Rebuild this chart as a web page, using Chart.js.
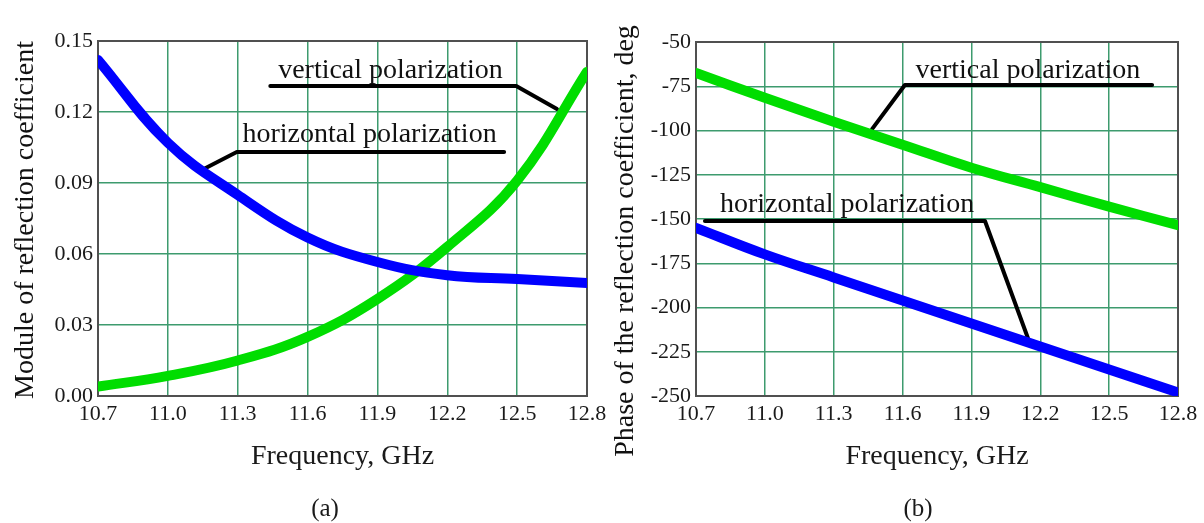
<!DOCTYPE html>
<html>
<head>
<meta charset="utf-8">
<script src="https://cdn.jsdelivr.net/npm/chart.js@4.4.1/dist/chart.umd.min.js"></script>
<style>
body{margin:0;background:#fff;width:1204px;height:523px;position:relative;overflow:hidden;font-family:"Liberation Serif",serif;}
canvas{position:absolute;top:0;}
#modChart{left:0}
#phaseChart{left:604px}
.cap{position:absolute;top:494px;font-size:25px;color:#1a1a1a;transform:translateX(-50%);}
</style>
</head>
<body>
<canvas id="modChart" width="612" height="523"></canvas>
<canvas id="phaseChart" width="600" height="523"></canvas>
<div class="cap" style="left:325px">(a)</div>
<div class="cap" style="left:918px">(b)</div>
<script>
// frequencies, GHz
const freq = [10.7, 11.0, 11.3, 11.6, 11.9, 12.2, 12.5, 12.8];
const freqTicks = [10.7, 11.0, 11.3, 11.6, 11.9, 12.2, 12.5, 12.8];

// (a) module of reflection coefficient
const moduleHorizontal = [0.142, 0.107, 0.085, 0.067, 0.0566, 0.051, 0.0494, 0.0477];
const moduleVertical = [0.004, 0.0085, 0.015, 0.025, 0.041, 0.063, 0.091, 0.137];
const moduleTicks = [0, 0.03, 0.06, 0.09, 0.12, 0.15];

// (b) phase, deg
const phaseVertical = [-67.5, -81.5, -95, -108, -121, -132, -143, -153.5];
const phaseHorizontal = [-155, -170, -183, -196, -209, -222, -235, -248];
const phaseTicks = [-250, -225, -200, -175, -150, -125, -100, -75, -50];

// callout leaders, [freq, value]
const moduleVertLeader = [[11.44, 0.131], [12.496, 0.131], [12.671, 0.1213]];
const moduleHorLeader = [[11.146, 0.0955], [11.296, 0.1031], [12.444, 0.1031]];
const phaseVertLeader = [[11.467, -99.2], [11.61, -74.3], [12.687, -74.3]];
const phaseHorLeader = [[10.739, -151.1], [11.959, -151.1], [12.146, -217.2]];

const SERIF = '"Liberation Serif", "Times New Roman", serif';
const GRID = '#3d9b6e';

const toXY = (xs, ys) => xs.map((v, i) => ({x: v, y: ys[i]}));
const pairs = arr => arr.map(p => ({x: p[0], y: p[1]}));

const curve = (data, color) => ({
    data: data, borderColor: color, borderWidth: 10, pointRadius: 0,
    tension: 0.4, borderCapStyle: 'round', fill: false
});
const leader = data => ({
    data: data, borderColor: '#000', borderWidth: 4, pointRadius: 0,
    tension: 0, borderCapStyle: 'round', borderJoinStyle: 'round', fill: false
});

// grey frame round the plot area
const frame = {
    id: 'frame',
    beforeDatasetsDraw(chart) {
        const {ctx, chartArea: a} = chart;
        ctx.save();
        ctx.strokeStyle = '#505050';
        ctx.lineWidth = 2;
        ctx.strokeRect(a.left, a.top, a.right - a.left, a.bottom - a.top);
        ctx.restore();
    }
};

// callout texts and rotated y title
const notes = {
    id: 'notes',
    afterDatasetsDraw(chart, args, opts) {
        const {ctx} = chart;
        const x = chart.scales.x, y = chart.scales.y;
        ctx.save();
        ctx.fillStyle = '#111';
        ctx.font = '28px ' + SERIF;
        ctx.textAlign = 'center';
        ctx.textBaseline = 'alphabetic';
        opts.labels.forEach(l => {
            ctx.fillText(l.text, x.getPixelForValue(l.x), y.getPixelForValue(l.y));
        });
        ctx.translate(opts.titleX, opts.titleY);
        ctx.rotate(-Math.PI / 2);
        ctx.fillText(opts.title, 0, 0);
        ctx.restore();
    }
};

function makeChart(id, cfg) {
    return new Chart(document.getElementById(id), {
        type: 'line',
        data: {datasets: cfg.datasets},
        options: {
            responsive: false,
            animation: false,
            devicePixelRatio: 1,
            layout: {padding: {left: 0, right: cfg.padRight, top: cfg.padTop, bottom: 0}},
            plugins: {
                legend: {display: false},
                tooltip: {enabled: false},
                notes: {labels: cfg.labels, title: cfg.title, titleX: cfg.titleX, titleY: cfg.titleY}
            },
            scales: {
                x: {
                    type: 'linear', min: 10.7, max: 12.8,
                    afterBuildTicks: s => { s.ticks = freqTicks.map(v => ({value: v})); },
                    afterFit: s => { s.height = 127; s.paddingLeft = 0; s.paddingRight = 0; },
                    ticks: {
                        font: {family: SERIF, size: 22}, color: '#1a1a1a', padding: 5,
                        maxRotation: 0, autoSkip: false,
                        callback: v => v.toFixed(1)
                    },
                    grid: {color: GRID, lineWidth: 1.5, drawTicks: false},
                    border: {display: false},
                    title: {
                        display: true, text: 'Frequency, GHz', color: '#1a1a1a',
                        font: {family: SERIF, size: 28}, padding: {top: 0, bottom: 50}
                    }
                },
                y: {
                    type: 'linear', min: cfg.yTicks[0], max: cfg.yTicks[cfg.yTicks.length - 1],
                    afterBuildTicks: s => { s.ticks = cfg.yTicks.map(v => ({value: v})); },
                    afterFit: s => { s.width = cfg.yWidth; s.paddingTop = 0; s.paddingBottom = 0; },
                    ticks: {
                        font: {family: SERIF, size: 22}, color: '#1a1a1a', padding: 5,
                        autoSkip: false, callback: cfg.yFormat
                    },
                    grid: {color: GRID, lineWidth: 1.5, drawTicks: false},
                    border: {display: false}
                }
            }
        },
        plugins: [frame, notes]
    });
}

makeChart('modChart', {
    datasets: [
        curve(toXY(freq, moduleHorizontal), '#0000ff'),
        curve(toXY(freq, moduleVertical), '#00dd00'),
        leader(pairs(moduleVertLeader)),
        leader(pairs(moduleHorLeader))
    ],
    yTicks: moduleTicks,
    yFormat: v => v.toFixed(2),
    yWidth: 98, padRight: 25, padTop: 41,
    title: 'Module of reflection coefficient', titleX: 33, titleY: 220,
    labels: [
        {text: 'vertical polarization', x: 11.956, y: 0.1344},
        {text: 'horizontal polarization', x: 11.866, y: 0.1073}
    ]
});

makeChart('phaseChart', {
    datasets: [
        curve(toXY(freq, phaseHorizontal), '#0000ff'),
        curve(toXY(freq, phaseVertical), '#00dd00'),
        leader(pairs(phaseVertLeader)),
        leader(pairs(phaseHorLeader))
    ],
    yTicks: phaseTicks,
    yFormat: v => String(v),
    yWidth: 92, padRight: 26, padTop: 42,
    title: 'Phase of the reflection coefficient, deg', titleX: 29, titleY: 241,
    labels: [
        {text: 'vertical polarization', x: 12.146, y: -70.3},
        {text: 'horizontal polarization', x: 11.358, y: -146.1}
    ]
});
</script>
</body>
</html>
